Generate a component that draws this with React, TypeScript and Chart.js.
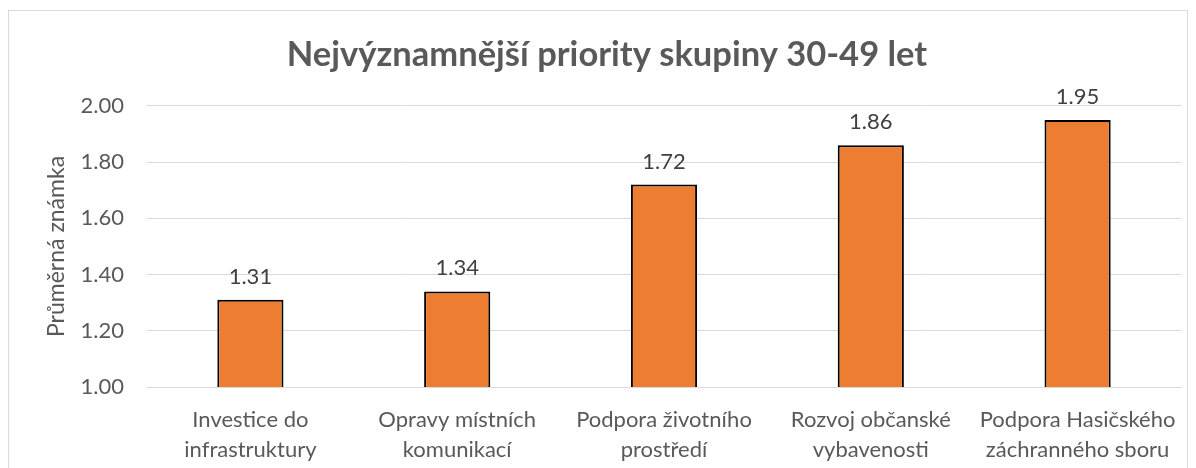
import React, { useEffect, useRef } from "react";
import { Chart, registerables } from "chart.js";

Chart.register(...registerables);

const TITLE = "Nejvýznamnější priority skupiny 30-49 let";
const Y_TITLE = "Průměrná známka";
const categories: string[][] = [
  ["Investice do", "infrastruktury"],
  ["Opravy místních", "komunikací"],
  ["Podpora životního", "prostředí"],
  ["Rozvoj občanské", "vybavenosti"],
  ["Podpora Hasičského", "záchranného sboru"],
];
const values: number[] = [1.31, 1.34, 1.72, 1.86, 1.95];
const yMin = 1.0;
const yMax = 2.0;
const yStep = 0.2;

const FONT = "Lato, 'Open Sans', sans-serif";

const valueLabels = {
  id: "valueLabels",
  afterDatasetsDraw(chart: any) {
    const ctx = chart.ctx;
    const meta = chart.getDatasetMeta(0);
    ctx.save();
    ctx.font = `22px ${FONT}`;
    ctx.fillStyle = "#404040";
    ctx.textAlign = "center";
    ctx.textBaseline = "alphabetic";
    meta.data.forEach((bar: any, i: number) => {
      const v = chart.data.datasets[0].data[i] as number;
      ctx.fillText(v.toFixed(2), bar.x, bar.y - 16);
    });
    ctx.restore();
  },
};

const yTitle = {
  id: "yTitle",
  afterDraw(chart: any) {
    const ctx = chart.ctx;
    const area = chart.chartArea;
    ctx.save();
    ctx.translate(48, area.top + area.height * 0.5);
    ctx.rotate(-Math.PI / 2);
    ctx.font = `23px ${FONT}`;
    ctx.fillStyle = "#595959";
    ctx.textAlign = "center";
    ctx.textBaseline = "middle";
    ctx.fillText(Y_TITLE, 0, 0);
    ctx.restore();
  },
};

export default function App() {
  const ref = useRef<HTMLCanvasElement | null>(null);
  useEffect(() => {
    if (!ref.current) return;
    const chart = new Chart(ref.current, {
      type: "bar",
      data: {
        labels: categories,
        datasets: [
          {
            data: values,
            backgroundColor: "#ED7D31",
            borderColor: "#000000",
            borderWidth: 2,
            borderSkipped: "bottom",
            categoryPercentage: 1,
            barPercentage: 0.32,
          },
        ],
      },
      options: {
        animation: false,
        responsive: false,
        maintainAspectRatio: false,
        layout: { padding: { left: 24, right: 6, top: 0, bottom: 0 } },
        plugins: {
          legend: { display: false },
          tooltip: { enabled: false },
          title: {
            display: true,
            text: TITLE,
            color: "#595959",
            font: { family: FONT, size: 34.5, weight: "bold", lineHeight: 1.2 },
            padding: { top: 23, bottom: 30.5 },
          },
        },
        scales: {
          x: {
            grid: { display: false, drawTicks: false },
            border: { display: true, color: "#d9d9d9", width: 1 },
            ticks: {
              color: "#595959",
              font: { family: FONT, size: 22, lineHeight: 30 / 22 },
              padding: 18,
              maxRotation: 0,
              autoSkip: false,
            },
            afterFit: (s: any) => {
              s.height = 102;
              s.paddingLeft = 0;
              s.paddingRight = 0;
            },
          },
          y: {
            min: yMin,
            max: yMax,
            grid: { color: "#d9d9d9", lineWidth: 1, drawTicks: false },
            border: { display: false },
            ticks: {
              stepSize: yStep,
              color: "#595959",
              font: { family: FONT, size: 22 },
              padding: 23,
              callback: (v: any) => Number(v).toFixed(2),
            },
            afterFit: (s: any) => {
              s.width = 114;
            },
          },
        },
      },
      plugins: [valueLabels, yTitle],
    });
    return () => chart.destroy();
  }, []);

  return (
    <div
      style={{
        marginTop: 2,
        width: 1180,
        height: 480,
        border: "1px solid #d9d9d9",
        boxSizing: "border-box",
        background: "#fff",
      }}
    >
      <canvas ref={ref} width={1178} height={478} style={{ display: "block" }} />
    </div>
  );
}
